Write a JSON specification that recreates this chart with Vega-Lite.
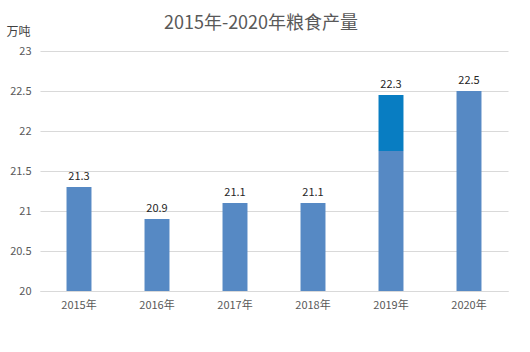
{
  "$schema": "https://vega.github.io/schema/vega-lite/v6.json",
  "autosize": "none",
  "width": 468,
  "height": 240,
  "padding": {"left": 40, "top": 51, "right": 22, "bottom": 61},
  "background": "white",
  "config": {
    "font": "Noto Sans CJK SC",
    "view": {"stroke": null},
    "axis": {"labelFont": "Noto Sans CJK SC", "titleFont": "Noto Sans CJK SC"}
  },
  "title": {
    "text": "2015年-2020年粮食产量",
    "fontSize": 18,
    "fontWeight": "normal",
    "color": "#595959",
    "anchor": "middle",
    "frame": "group",
    "dx": -13,
    "offset": -8
  },
  "data": {
    "values": [
      {"year": "2015年", "lo": 20, "hi": 21.3, "part": "a", "label": "21.3"},
      {"year": "2016年", "lo": 20, "hi": 20.9, "part": "a", "label": "20.9"},
      {"year": "2017年", "lo": 20, "hi": 21.1, "part": "a", "label": "21.1"},
      {"year": "2018年", "lo": 20, "hi": 21.1, "part": "a", "label": "21.1"},
      {"year": "2019年", "lo": 20, "hi": 21.75, "part": "a", "label": ""},
      {"year": "2019年", "lo": 21.75, "hi": 22.45, "part": "b", "label": "22.3"},
      {"year": "2020年", "lo": 20, "hi": 22.5, "part": "a", "label": "22.5"}
    ]
  },
  "encoding": {
    "x": {
      "field": "year",
      "type": "nominal",
      "sort": null,
      "scale": {"paddingInner": 0.68, "paddingOuter": 0.34},
      "axis": {
        "title": null,
        "labelAngle": 0,
        "labelColor": "#595959",
        "labelFontSize": 11,
        "labelPadding": 8,
        "ticks": false,
        "domainColor": "#D9D9D9",
        "grid": false
      }
    },
    "y": {
      "field": "hi",
      "type": "quantitative",
      "scale": {"domain": [20, 23], "nice": false, "zero": false},
      "axis": {
        "values": [20, 20.5, 21, 21.5, 22, 22.5, 23],
        "format": "~g",
        "labelOverlap": false,
        "title": "万吨",
        "titleAngle": 0,
        "titleAlign": "left",
        "titleBaseline": "alphabetic",
        "titleX": -34,
        "titleY": -16,
        "titleFontSize": 12,
        "titleFontWeight": "normal",
        "titleColor": "#404040",
        "labelColor": "#595959",
        "labelFontSize": 11,
        "labelPadding": 9,
        "ticks": false,
        "domain": false,
        "gridColor": "#D9D9D9"
      }
    }
  },
  "layer": [
    {
      "mark": {"type": "bar"},
      "encoding": {
        "y2": {"field": "lo"},
        "color": {
          "field": "part",
          "type": "nominal",
          "scale": {"domain": ["a", "b"], "range": ["#5689C4", "#087DC2"]},
          "legend": null
        }
      }
    },
    {
      "transform": [{"filter": "datum.label != ''"}],
      "mark": {"type": "text", "baseline": "bottom", "dy": -5, "fontSize": 11, "color": "#262626"},
      "encoding": {
        "text": {"field": "label"}
      }
    }
  ]
}
